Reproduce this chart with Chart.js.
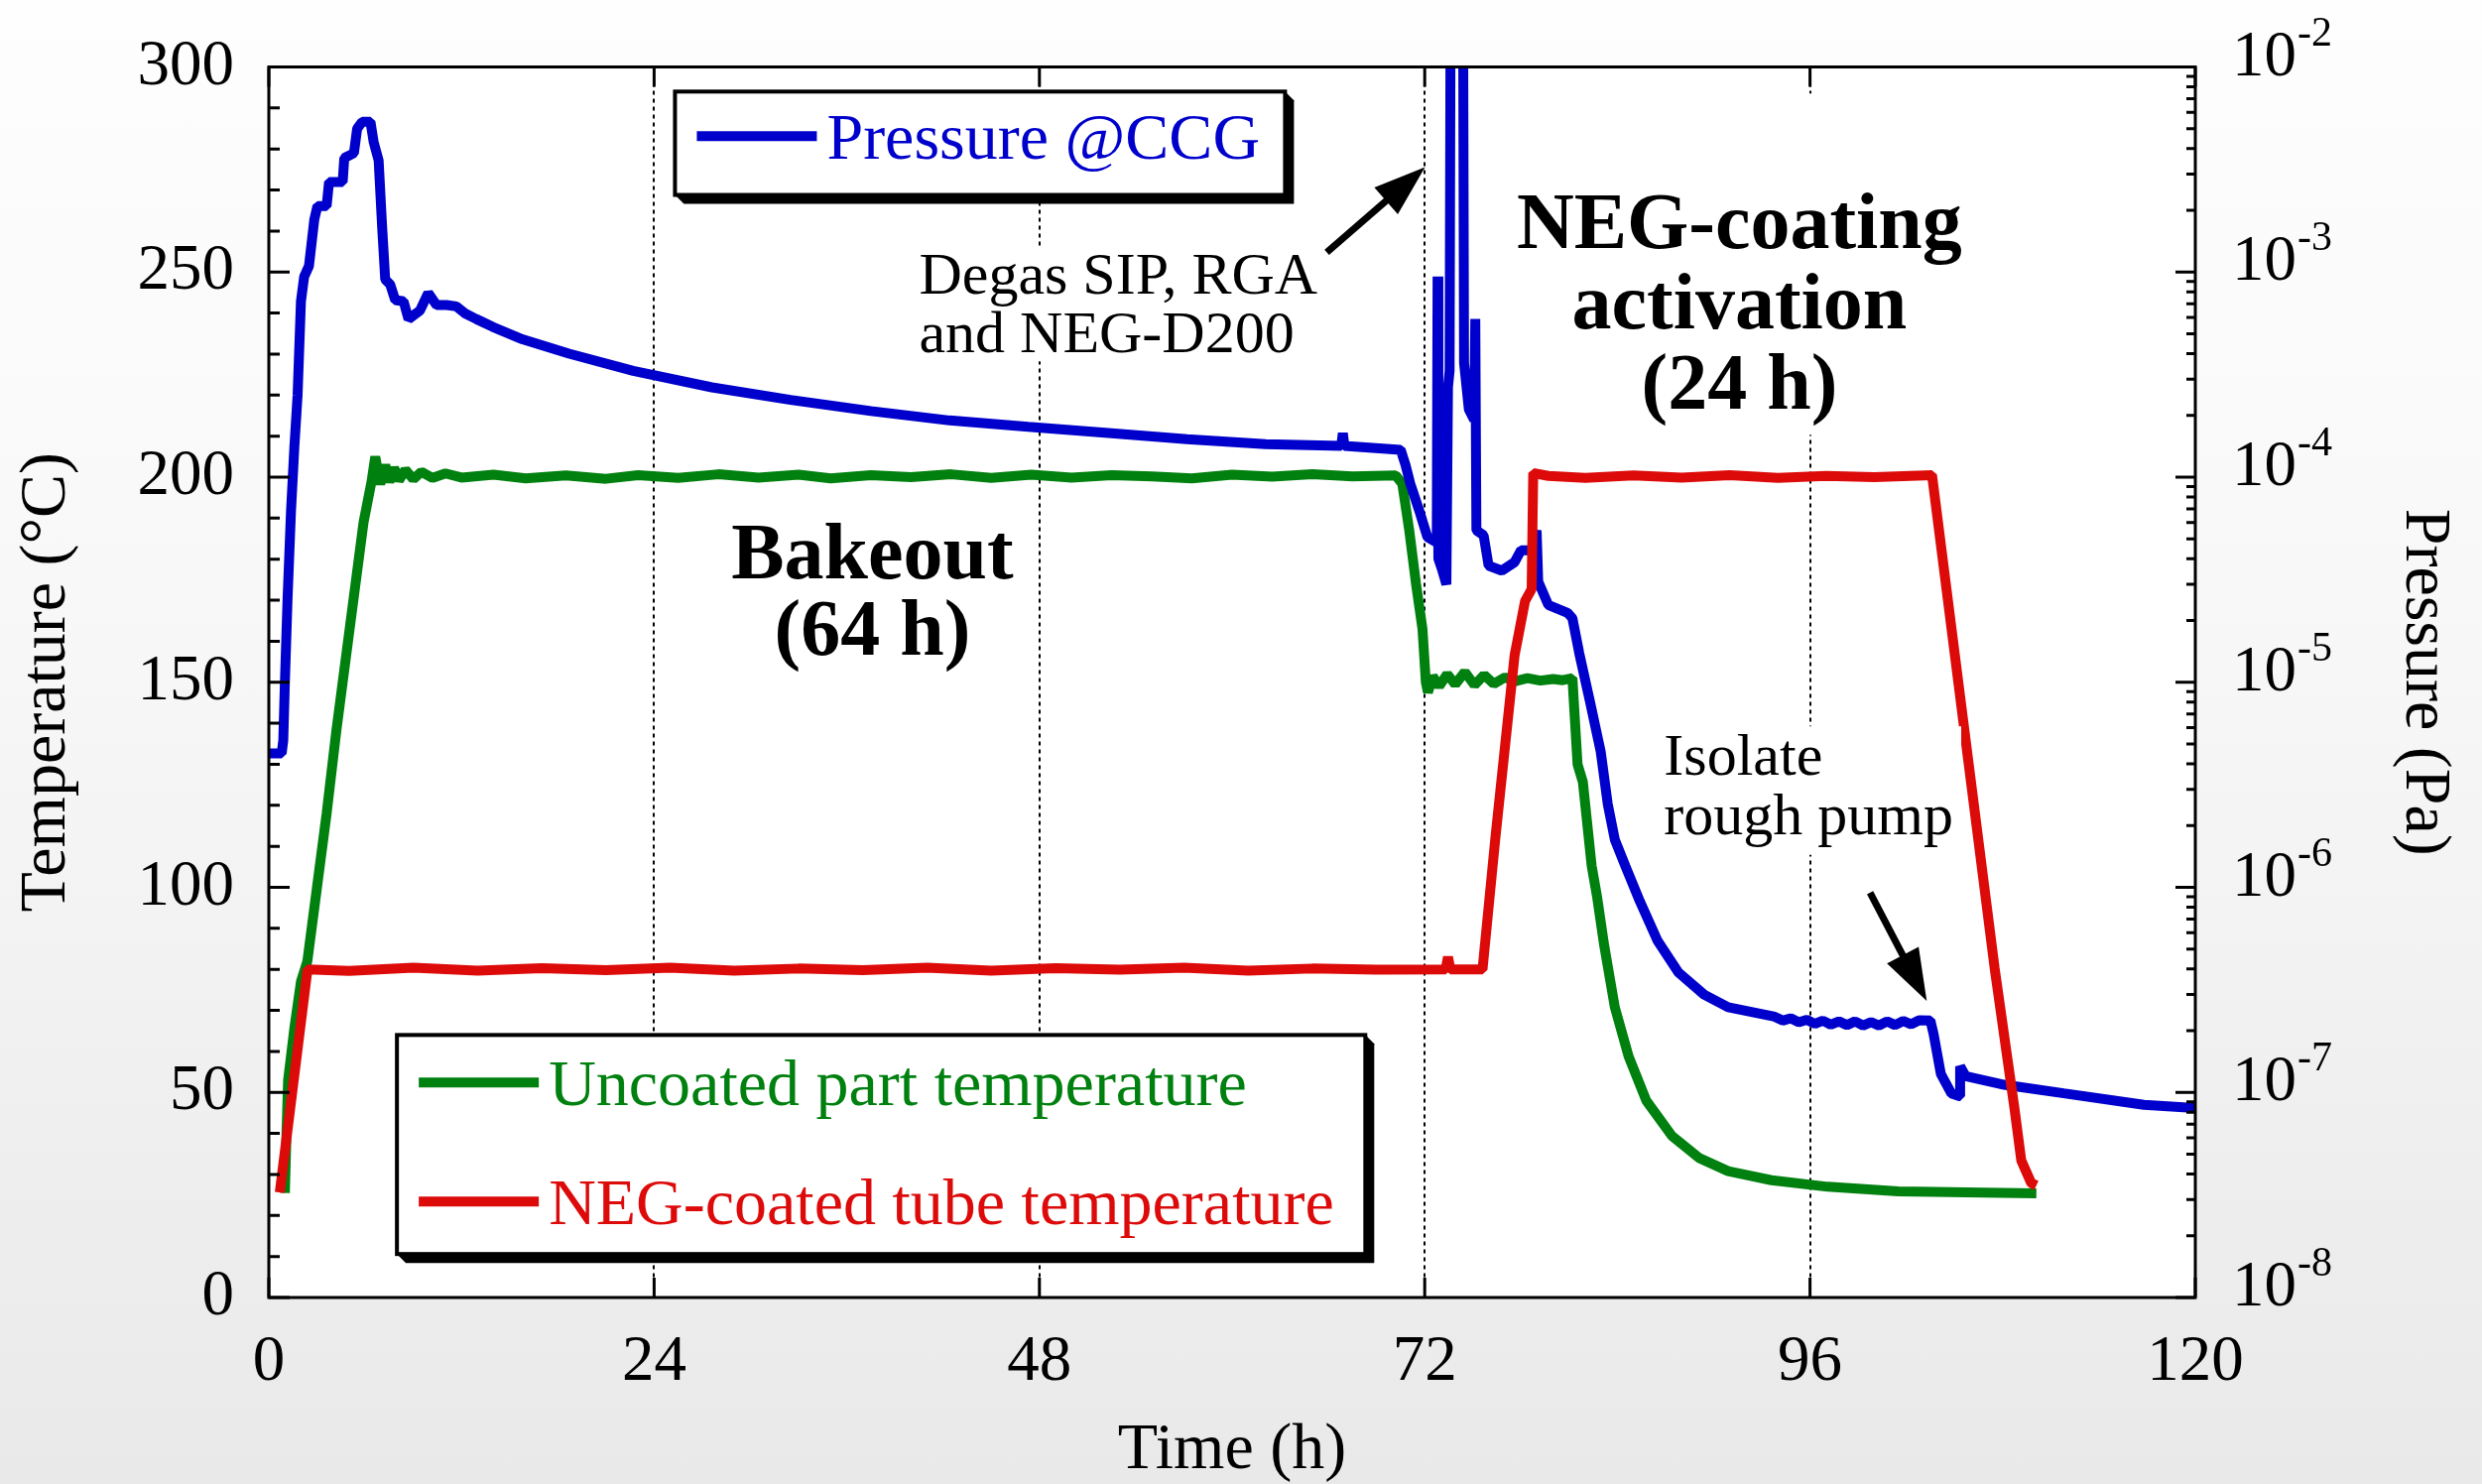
<!DOCTYPE html>
<html>
<head>
<meta charset="utf-8">
<title>Bakeout and NEG-coating activation</title>
<script src="https://cdn.jsdelivr.net/npm/chart.js@4.4.1/dist/chart.umd.min.js"></script>
<style>
  html, body { margin: 0; padding: 0; }
  body {
    width: 2502px; height: 1496px; overflow: hidden;
    background: linear-gradient(to bottom, #fefefe 0%, #f7f7f7 45%, #e9e9e9 100%);
  }
</style>
</head>
<body>
<canvas id="bakeChart" width="2502" height="1496"></canvas>
<script>
// ---- logged series: time in hours ----
// uncoated part thermocouple (°C)
const uncoatedTime = [
  1.0, 1.1, 1.2, 1.6, 2.0, 2.4, 3.0, 3.6, 4.2, 4.8, 5.3, 5.9, 6.4, 6.63,
  6.94, 7.25, 7.5, 7.8, 8.1, 8.5, 9.0, 9.5, 10.2, 11.0, 12.0, 14.0, 16.0,
  18.5, 21.0, 23.0, 25.5, 28.0, 30.5, 33.0, 35.0, 37.5, 40.0, 42.5, 45.0,
  47.5, 50.0, 52.5, 55.0, 57.5, 60.0, 62.5, 65.0, 67.5, 70.2,
  70.6, 71.03, 71.45, 71.86, 72.07, 72.2, 72.5, 72.9, 73.4, 73.9, 74.5,
  75.1, 75.7, 76.3, 77.0, 77.6, 78.4, 79.2, 80.0, 80.6, 81.2,
  81.52, 81.85, 82.4, 82.74, 83.18, 83.84, 84.7, 85.8, 87.4, 89.1, 90.9,
  93.6, 97.1, 101.5, 110.1
];
const uncoatedTemp = [
  25.5, 40, 53, 66, 77, 82, 100, 118, 138, 156, 171, 189, 199, 205,
  198.3, 203, 198.8, 202.3, 199.2, 201.8, 199.5, 201.3, 199.8, 200.9, 199.9, 200.6, 199.7,
  200.4, 199.6, 200.5, 199.8, 200.7, 199.9, 200.6, 199.7, 200.5, 200.0, 200.7, 199.8,
  200.6, 199.9, 200.5, 200.2, 199.7, 200.6, 200.1, 200.7, 200.2, 200.4,
  198.4, 187.2, 174.2, 163, 150, 147.5, 151.5, 149, 152, 149.5, 152.5,
  149.3, 151.8, 149.6, 151.2, 150.2, 151, 150.4, 150.8, 150.5, 151,
  130, 125.7, 105.2, 97.6, 85.8, 70.8, 58.8, 48, 39.4, 34, 30.8,
  28.6, 27, 25.9, 25.4
];

// NEG-coated tube thermocouple (°C)
const tubeTime = [
  0.68, 2.41, 5, 9, 13, 17, 21, 25, 29, 33, 37, 41, 45, 49, 53, 57, 61, 65, 69, 73.3,
  73.45, 73.6, 75.6, 76.4, 77.6, 78.25, 78.66, 78.72, 78.76,
  79.7, 82, 85, 88, 91, 94, 97, 100, 103.6,
  105.86, 107.5, 108.75, 109.16, 109.78, 110.1
];
const tubeTemp = [
  25.6, 80, 79.6, 80.4, 79.7, 80.3, 79.8, 80.4, 79.7, 80.2, 79.8, 80.4, 79.7, 80.3, 79.9, 80.4, 79.7, 80.2, 79.9, 80,
  83, 80, 80, 112, 156.6, 169.8, 172.7, 190, 201,
  200.3, 199.8, 200.4, 199.9, 200.5, 199.8, 200.3, 200, 200.5,
  130.8, 80.3, 45.7, 33.4, 27.9, 27.3
];

// cold cathode gauge (Pa)
const ccgTime = [
  0, 0.8, 0.9, 1.0, 1.17, 1.38, 1.59, 1.79, 2.0, 2.2, 2.5, 2.83, 3.03, 3.6, 3.75, 4.6, 4.7, 5.3, 5.5, 5.81, 6.33, 6.53, 6.84, 7.05, 7.25,
  7.56, 7.87, 8.39, 8.7, 9.42, 9.93, 10.45, 11.07, 11.68, 12.2, 12.92, 13.95, 15.8, 18.7, 22.7, 27.6, 32.5, 37.5, 42.4, 47.3, 52.3, 57.2, 62.1,
  66.8, 66.9, 67.0, 70.5, 70.8, 71.1, 71.65, 72.17, 72.75,
  72.8, 72.85, 73.1, 73.35, 73.45, 73.55, 73.62, 74.38, 74.45, 74.75, 75.08, 75.15, 75.22,
  75.67, 75.98, 76.8, 77.6, 78.0, 78.65, 78.97, 79.07, 79.7, 80.9, 81.2, 81.63, 82.3, 82.96, 83.4, 83.84, 84.5, 85.4, 86.5, 87.8, 89.4, 90.9,
  93.8, 94.3, 94.8, 95.3, 95.8, 96.3, 96.8, 97.3, 97.8, 98.3, 98.8, 99.3, 99.8, 100.3, 100.8, 101.3, 101.8, 102.3, 102.8, 103.5,
  103.7, 104.15, 104.8, 105.3, 105.35, 105.7, 108.1, 111.8, 116.8, 120
];
const ccgPressure = [
  4.5e-6, 4.5e-6, 5.2e-6, 1.0e-5, 2.6e-5, 6.8e-5, 1.4e-4, 2.5e-4, 7.2e-4, 9.5e-4, 1.07e-3, 1.8e-3, 2.1e-3, 2.1e-3, 2.75e-3, 2.75e-3, 3.6e-3, 3.8e-3, 5.0e-3, 5.4e-3, 5.4e-3, 4.3e-3, 3.5e-3, 1.7e-3, 9.2e-4,
  8.7e-4, 7.3e-4, 7.2e-4, 5.9e-4, 6.5e-4, 7.9e-4, 6.9e-4, 6.9e-4, 6.8e-4, 6.3e-4, 5.9e-4, 5.4e-4, 4.7e-4, 4.0e-4, 3.3e-4, 2.74e-4, 2.38e-4, 2.1e-4, 1.89e-4, 1.76e-4, 1.64e-4, 1.53e-4, 1.45e-4,
  1.42e-4, 1.64e-4, 1.42e-4, 1.36e-4, 1.15e-4, 9.3e-5, 6.9e-5, 5.1e-5, 4.8e-5,
  9.5e-4, 4.0e-5, 3.5e-5, 3.0e-5, 2.75e-4, 3.3e-4, 4e-2, 4e-2, 3.6e-4, 2.14e-4, 1.9e-4, 5.9e-4, 5.5e-5,
  5.2e-5, 3.7e-5, 3.5e-5, 3.85e-5, 4.4e-5, 4.4e-5, 5.5e-5, 3.1e-5, 2.38e-5, 2.18e-5, 2.05e-5, 1.38e-5, 8.0e-6, 4.6e-6, 2.55e-6, 1.71e-6, 1.27e-6, 8.55e-7, 5.5e-7, 3.85e-7, 3.0e-7, 2.6e-7,
  2.34e-7, 2.24e-7, 2.3e-7, 2.2e-7, 2.26e-7, 2.16e-7, 2.24e-7, 2.14e-7, 2.22e-7, 2.13e-7, 2.22e-7, 2.12e-7, 2.2e-7, 2.12e-7, 2.22e-7, 2.13e-7, 2.23e-7, 2.15e-7, 2.25e-7, 2.24e-7,
  1.92e-7, 1.23e-7, 9.9e-8, 9.6e-8, 1.34e-7, 1.2e-7, 1.09e-7, 9.9e-8, 8.7e-8, 8.4e-8
];

// axis ticks
const timeTicks = [0, 24, 48, 72, 96, 120];
const tempTicks = [0, 50, 100, 150, 200, 250, 300];
const tempMinorStep = 10;
const pressureDecades = [-8, -7, -6, -5, -4, -3, -2];

// ---- styling ----
const SERIF = '"Liberation Serif", "Times New Roman", "DejaVu Serif", serif';
const BLUE = '#0000cc';
const GREEN = '#00800f';
const RED = '#dd0a0a';
const LINE_W = 10;

const pairs = (xs, ys) => xs.map((x, i) => ({ x, y: ys[i] }));

// text notes, anchored in (hours, °C)
const notes = [
  { lines: ['Degas SIP, RGA', 'and NEG-D200'], t: 40.5, temps: [244.7, 230.4], size: 60, weight: 'normal', align: 'left' },
  { lines: ['NEG-coating', 'activation', '(24 h)'], t: 91.6, temps: [255.8, 236.2, 216.6], size: 80, weight: 'bold', align: 'center', padTop: 100 },
  { lines: ['Bakeout', '(64 h)'], t: 37.6, temps: [175.4, 156.8], size: 80, weight: 'bold', align: 'center' },
  { lines: ['Isolate', 'rough pump'], t: 86.9, temps: [127.4, 113], size: 60, weight: 'normal', align: 'left' }
];
const arrows = [
  { from: [65.9, 254.8], to: [72.02, 275.6] },
  { from: [99.74, 98.7], to: [103.27, 72.3] }
];
// legend frames, anchored in (hours, °C); rows list dataset labels
const legendFrames = [
  { rows: ['Pressure @CCG'], t0: 25.3, t1: 63.3, top: 294, bottom: 268.8, firstRow: 45 },
  { rows: ['Uncoated part temperature', 'NEG-coated tube temperature'], t0: 7.98, t1: 68.3, top: 64, bottom: 10.6, firstRow: 48 }
];

function drawArrow(ctx, x1, y1, x2, y2) {
  const head = 52, half = 18;
  const ang = Math.atan2(y2 - y1, x2 - x1);
  const bx = x2 - head * Math.cos(ang), by = y2 - head * Math.sin(ang);
  ctx.lineWidth = 7;
  ctx.beginPath();
  ctx.moveTo(x1, y1);
  ctx.lineTo(bx + 4 * Math.cos(ang), by + 4 * Math.sin(ang));
  ctx.stroke();
  ctx.beginPath();
  ctx.moveTo(x2, y2);
  ctx.lineTo(bx + half * Math.sin(ang), by - half * Math.cos(ang));
  ctx.lineTo(bx - half * Math.sin(ang), by + half * Math.cos(ang));
  ctx.closePath();
  ctx.fill();
}

function drawNote(ctx, note, xs, ys) {
  ctx.font = `${note.weight} ${note.size}px ${SERIF}`;
  const px = xs.getPixelForValue(note.t);
  const py = note.temps.map(T => ys.getPixelForValue(T));
  let minX = Infinity, maxX = -Infinity, minY = Infinity, maxY = -Infinity;
  note.lines.forEach((s, i) => {
    const m = ctx.measureText(s);
    const left = note.align === 'center' ? px - m.width / 2 : px;
    minX = Math.min(minX, left);
    maxX = Math.max(maxX, left + m.width);
    minY = Math.min(minY, py[i] - m.actualBoundingBoxAscent);
    maxY = Math.max(maxY, py[i] + m.actualBoundingBoxDescent);
  });
  const pad = 8, padTop = note.padTop || pad;
  ctx.fillStyle = '#ffffff';
  ctx.fillRect(minX - pad, minY - padTop, maxX - minX + 2 * pad, maxY - minY + padTop + pad);
  ctx.fillStyle = '#000';
  ctx.textAlign = note.align;
  ctx.textBaseline = 'alphabetic';
  note.lines.forEach((s, i) => ctx.fillText(s, px, py[i]));
}

function drawLegendFrame(chart, frame, xs, ys) {
  const ctx = chart.ctx;
  const l = xs.getPixelForValue(frame.t0), r = xs.getPixelForValue(frame.t1);
  const t = ys.getPixelForValue(frame.top), b = ys.getPixelForValue(frame.bottom);
  const sh = 9;
  // drop shadow
  ctx.fillStyle = '#000';
  ctx.beginPath();
  ctx.moveTo(l, b);
  ctx.lineTo(l + sh, b + sh);
  ctx.lineTo(r + sh, b + sh);
  ctx.lineTo(r + sh, t + sh);
  ctx.lineTo(r, t);
  ctx.closePath();
  ctx.fill();
  ctx.fillStyle = '#ffffff';
  ctx.fillRect(l, t, r - l, b - t);
  ctx.strokeStyle = '#000';
  ctx.lineWidth = 4;
  ctx.strokeRect(l, t, r - l, b - t);

  ctx.font = `66px ${SERIF}`;
  ctx.textAlign = 'left';
  ctx.textBaseline = 'alphabetic';
  frame.rows.forEach((label, i) => {
    const ds = chart.data.datasets.find(d => d.label === label);
    const y = t + frame.firstRow + i * 120;
    ctx.strokeStyle = ds.borderColor;
    ctx.lineWidth = LINE_W;
    ctx.beginPath();
    ctx.moveTo(l + 22, y);
    ctx.lineTo(l + 143, y);
    ctx.stroke();
    ctx.fillStyle = ds.borderColor;
    ctx.fillText(label, l + 153, y + 23);
  });
}

const framePlugin = {
  id: 'frameAndNotes',
  beforeDraw(chart) {
    const { ctx, chartArea: a } = chart;
    ctx.save();
    ctx.fillStyle = '#ffffff';
    ctx.fillRect(a.left, a.top, a.right - a.left, a.bottom - a.top);
    ctx.restore();
  },
  afterDatasetsDraw(chart) {
    const { ctx, chartArea: a, scales } = chart;
    const xs = scales.x, ys = scales.yT, yp = scales.yP;
    ctx.save();

    // plot frame
    ctx.strokeStyle = '#000';
    ctx.lineWidth = 3;
    ctx.strokeRect(a.left, a.top, a.right - a.left, a.bottom - a.top);

    // inward tick marks
    ctx.beginPath();
    timeTicks.forEach(v => {
      const px = xs.getPixelForValue(v);
      ctx.moveTo(px, a.bottom); ctx.lineTo(px, a.bottom - 20);
      ctx.moveTo(px, a.top); ctx.lineTo(px, a.top + 20);
    });
    for (let v = tempTicks[0]; v <= tempTicks[tempTicks.length - 1]; v += tempMinorStep) {
      const py = ys.getPixelForValue(v);
      ctx.moveTo(a.left, py);
      ctx.lineTo(a.left + (tempTicks.includes(v) ? 21 : 11), py);
    }
    pressureDecades.forEach(k => {
      const py = yp.getPixelForValue(Math.pow(10, k));
      ctx.moveTo(a.right, py); ctx.lineTo(a.right - 20, py);
      if (k < pressureDecades[pressureDecades.length - 1]) {
        for (let m = 2; m <= 9; m++) {
          const pm = yp.getPixelForValue(m * Math.pow(10, k));
          ctx.moveTo(a.right, pm); ctx.lineTo(a.right - 9, pm);
        }
      }
    });
    ctx.stroke();

    // pressure tick labels with superscript exponent
    ctx.fillStyle = '#000';
    ctx.textAlign = 'left';
    ctx.textBaseline = 'alphabetic';
    pressureDecades.forEach(k => {
      const py = yp.getPixelForValue(Math.pow(10, k)) + 8;
      ctx.font = `65px ${SERIF}`;
      ctx.fillText('10', a.right + 37, py);
      const w = ctx.measureText('10').width;
      ctx.font = `42px ${SERIF}`;
      ctx.fillText('-' + Math.abs(k), a.right + 38 + w, py - 30);
    });

    // notes and arrows
    notes.forEach(n => drawNote(ctx, n, xs, ys));
    ctx.fillStyle = '#000';
    ctx.strokeStyle = '#000';
    arrows.forEach(ar => {
      drawArrow(ctx,
        xs.getPixelForValue(ar.from[0]), ys.getPixelForValue(ar.from[1]),
        xs.getPixelForValue(ar.to[0]), ys.getPixelForValue(ar.to[1]));
    });

    // legends
    legendFrames.forEach(f => drawLegendFrame(chart, f, xs, ys));
    ctx.restore();
  }
};

const tickFont = { family: SERIF, size: 65, lineHeight: 1 };
const titleFont = { family: SERIF, size: 66, lineHeight: 1 };

new Chart(document.getElementById('bakeChart'), {
  type: 'line',
  data: {
    datasets: [
      { label: 'NEG-coated tube temperature', data: pairs(tubeTime, tubeTemp), borderColor: RED, yAxisID: 'yT', order: 0 },
      { label: 'Pressure @CCG', data: pairs(ccgTime, ccgPressure), borderColor: BLUE, yAxisID: 'yP', order: 1 },
      { label: 'Uncoated part temperature', data: pairs(uncoatedTime, uncoatedTemp), borderColor: GREEN, yAxisID: 'yT', order: 2 }
    ]
  },
  options: {
    responsive: false,
    animation: false,
    events: [],
    layout: { padding: { top: 66, left: 0, right: 0, bottom: 0 } },
    elements: {
      point: { radius: 0 },
      line: { borderWidth: LINE_W, tension: 0, borderJoinStyle: 'bevel', borderCapStyle: 'butt', fill: false }
    },
    plugins: { legend: { display: false }, tooltip: { enabled: false } },
    scales: {
      x: {
        type: 'linear', min: 0, max: 120,
        afterBuildTicks: s => { s.ticks = timeTicks.map(v => ({ value: v })); },
        afterFit: s => { s.height = 188; },
        ticks: { font: tickFont, color: '#000', padding: 33, maxRotation: 0, autoSkip: false },
        grid: { color: '#000', lineWidth: 2, drawTicks: false },
        border: { display: false, dash: [4, 4] },
        title: { display: true, text: 'Time (h)', color: '#000', font: titleFont, padding: { top: 0, bottom: 0 } }
      },
      yT: {
        type: 'linear', position: 'left', min: 0, max: 300,
        afterBuildTicks: s => { s.ticks = tempTicks.map(v => ({ value: v })); },
        afterFit: s => { s.width = 271; },
        ticks: { font: tickFont, color: '#000', padding: 35 },
        grid: { display: false, drawTicks: false },
        border: { display: false },
        title: { display: true, text: 'Temperature (°C)', color: '#000', font: titleFont, padding: { top: 15, bottom: 0 } }
      },
      yP: {
        type: 'logarithmic', position: 'right', min: 1e-8, max: 1e-2,
        afterBuildTicks: s => { s.ticks = pressureDecades.map(k => ({ value: Math.pow(10, k) })); },
        afterFit: s => { s.width = 289; },
        ticks: { display: false },
        grid: { display: false, drawTicks: false },
        border: { display: false },
        title: { display: true, text: 'Pressure (Pa)', color: '#000', font: titleFont, padding: { top: 26, bottom: 0 } }
      }
    }
  },
  plugins: [framePlugin]
});
</script>
</body>
</html>
